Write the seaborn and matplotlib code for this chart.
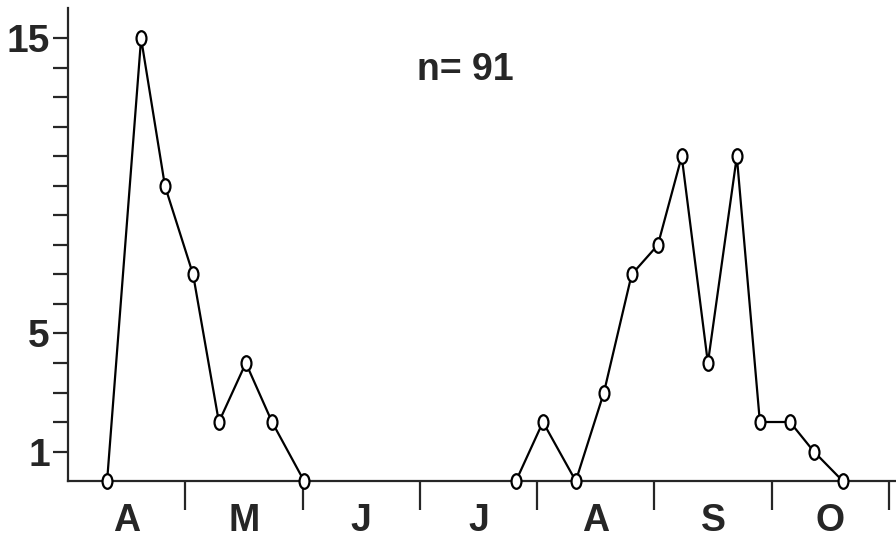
import pandas as pd
import numpy as np
import matplotlib.pyplot as plt
import seaborn as sns
from matplotlib.path import Path
from matplotlib.transforms import Affine2D

# weekly catches, x = days from 1 April (30-day months as drawn)
spring_days = [10, 18.7, 24.8, 32, 38.6, 45.5, 52.2, 60.4]
spring_counts = [0, 15, 10, 7, 2, 4, 2, 0]
autumn_days = [114.6, 121.5, 129.9, 137.1, 144.2, 150.9, 157, 163.7, 171.1, 177, 184.7, 190.8, 198.2]
autumn_counts = [0, 2, 0, 3, 7, 8, 11, 4, 11, 2, 2, 1, 0]

months = ['A', 'M', 'J', 'J', 'A', 'S', 'O']
month_edges = [30, 60, 90, 120, 150, 180, 210]
y_labels = {1: '1', 5: '5', 15: '15'}

df = pd.concat([
    pd.DataFrame({'day': spring_days, 'count': spring_counts, 'segment': 'spring'}),
    pd.DataFrame({'day': autumn_days, 'count': autumn_counts, 'segment': 'autumn'}),
])

sns.set_style('ticks')
plt.rcParams['font.family'] = ['Liberation Sans', 'DejaVu Sans']

fig = plt.figure(figsize=(8.96, 5.42), dpi=100)
ax = fig.add_axes([0.0759, 0.1125, 0.924, 0.8727])

# open ellipse marker, a bit taller than wide
ellipse = Path.unit_circle().transformed(Affine2D().scale(0.68, 1.0))

sns.lineplot(data=df, x='day', y='count', units='segment', estimator=None,
             color='black', linewidth=1.6, marker=ellipse, markersize=10.5,
             markerfacecolor='white', markeredgecolor='black', markeredgewidth=1.6,
             clip_on=False, zorder=5, ax=ax)

ax.set_xlim(0, 211.8)
ax.set_ylim(0, 16.03)

sns.despine(ax=ax)
for s in ['left', 'bottom']:
    ax.spines[s].set_linewidth(1.6)

# y: tick every unit, labels only at 1, 5, 15
ax.set_yticks(range(1, 16))
ax.set_yticklabels([y_labels.get(v, '') for v in range(1, 16)],
                   fontsize=28, fontweight='bold')
ax.tick_params(axis='y', direction='out', length=11, width=1.6, pad=2)

# x: month boundaries as long downward ticks, month letters centred
ax.set_xticks(month_edges)
ax.set_xticklabels([])
ax.tick_params(axis='x', which='major', direction='out', length=21, width=1.6)
ax.set_xticks([e - 15 for e in month_edges], minor=True)
ax.set_xticklabels(months, minor=True, fontsize=27, fontweight='bold')
ax.tick_params(axis='x', which='minor', length=0, pad=16)

ax.set_xlabel('')
ax.set_ylabel('')

ax.text(0.48, 0.87, 'n= 91', transform=ax.transAxes, ha='center', va='center',
        fontsize=27, fontweight='bold')

fig.savefig('out.png', dpi=100)
